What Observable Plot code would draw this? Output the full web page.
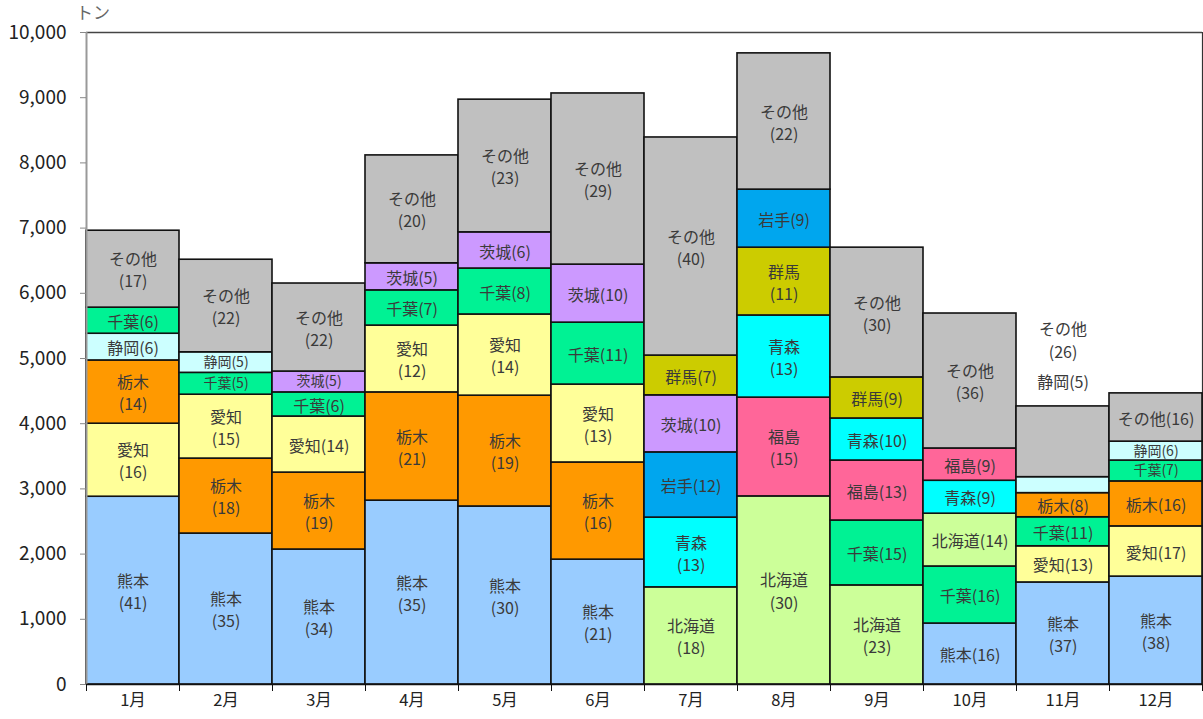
<!DOCTYPE html>
<html><head><meta charset="utf-8">
<script src="https://cdn.jsdelivr.net/npm/d3@7"></script>
<script src="https://cdn.jsdelivr.net/npm/@observablehq/plot@0.6"></script>
<style>
body{margin:0;background:#fff;}
#chart{position:relative;width:1203px;height:719px;}
#unit{position:absolute;left:76px;top:0px;font-family:"Noto Sans CJK JP",sans-serif;font-size:17px;line-height:24px;color:#666;}
</style>
</head><body>
<div id="chart"><div id="unit">トン</div></div>
<script>
// ---- data (tons, bottom to top; label = prefecture (share %)) ----
const months = ["1月","2月","3月","4月","5月","6月","7月","8月","9月","10月","11月","12月"];
const yTicks = [0,1000,2000,3000,4000,5000,6000,7000,8000,9000,10000];

const jan = [["熊本",2880,"熊本\n(41)"],["愛知",1120,"愛知\n(16)"],["栃木",970,"栃木\n(14)"],["静岡",410,"静岡(6)"],["千葉",400,"千葉(6)"],["その他",1180,"その他\n(17)"]];
const feb = [["熊本",2315,"熊本\n(35)"],["栃木",1150,"栃木\n(18)"],["愛知",980,"愛知\n(15)"],["千葉",335,"千葉(5)"],["静岡",315,"静岡(5)"],["その他",1420,"その他\n(22)"]];
const mar = [["熊本",2070,"熊本\n(34)"],["栃木",1180,"栃木\n(19)"],["愛知",860,"愛知(14)"],["千葉",370,"千葉(6)"],["茨城",320,"茨城(5)"],["その他",1350,"その他\n(22)"]];
const apr = [["熊本",2820,"熊本\n(35)"],["栃木",1660,"栃木\n(21)"],["愛知",1025,"愛知\n(12)"],["千葉",540,"千葉(7)"],["茨城",415,"茨城(5)"],["その他",1655,"その他\n(20)"]];
const may = [["熊本",2730,"熊本\n(30)"],["栃木",1700,"栃木\n(19)"],["愛知",1245,"愛知\n(14)"],["千葉",705,"千葉(8)"],["茨城",555,"茨城(6)"],["その他",2035,"その他\n(23)"]];
const jun = [["熊本",1915,"熊本\n(21)"],["栃木",1490,"栃木\n(16)"],["愛知",1195,"愛知\n(13)"],["千葉",950,"千葉(11)"],["茨城",890,"茨城(10)"],["その他",2625,"その他\n(29)"]];
const jul = [["北海道",1490,"北海道\n(18)"],["青森",1070,"青森\n(13)"],["岩手",1000,"岩手(12)"],["茨城",875,"茨城(10)"],["群馬",610,"群馬(7)"],["その他",3345,"その他\n(40)"]];
const aug = [["北海道",2885,"北海道\n(30)"],["福島",1515,"福島\n(15)"],["青森",1260,"青森\n(13)"],["群馬",1040,"群馬\n(11)"],["岩手",890,"岩手(9)"],["その他",2090,"その他\n(22)"]];
const sep = [["北海道",1520,"北海道\n(23)"],["千葉",995,"千葉(15)"],["福島",920,"福島(13)"],["青森",645,"青森(10)"],["群馬",630,"群馬(9)"],["その他",1990,"その他\n(30)"]];
const oct = [["熊本",935,"熊本(16)"],["千葉",875,"千葉(16)"],["北海道",810,"北海道(14)"],["青森",505,"青森(9)"],["福島",495,"福島(9)"],["その他",2070,"その他\n(36)"]];
const nov = [["熊本",1565,"熊本\n(37)"],["愛知",555,"愛知(13)"],["千葉",445,"千葉(11)"],["栃木",370,"栃木(8)"],["静岡",245,""],["その他",1085,""]];
const dec = [["熊本",1655,"熊本\n(38)"],["愛知",770,"愛知(17)"],["栃木",690,"栃木(16)"],["千葉",320,"千葉(7)"],["静岡",290,"静岡(6)"],["その他",740,"その他(16)"]];
// labels of November's two top segments are written above its bar
const novOutside = ["その他\n(26)","静岡(5)"];

const prefNames  = ["熊本","愛知","栃木","静岡","千葉","茨城","群馬","岩手","青森","福島","北海道","その他"];
const prefColors = ["#99ccff","#ffff99","#ff9900","#ccffff","#00f294","#cc99ff","#cccc00","#00a6ee","#00ffff","#ff6699","#ccff99","#c0c0c0"];

// ---- build stacked rows ----
const monthRows = [jan,feb,mar,apr,may,jun,jul,aug,sep,oct,nov,dec];
const rows = monthRows.flatMap((segs, i) => {
  let acc = 0;
  return segs.map(([pref, value, label]) => {
    const y1 = acc; acc += value;
    return {i, month: months[i], pref, value, label, y1, y2: acc};
  });
});
const novTotal = d3.sum(nov, d => d[1]);
const novIdx = months.indexOf("11月");

const font = '"Noto Sans CJK JP", "Noto Sans", sans-serif';
const chart = Plot.plot({
  width: 1203, height: 719,
  marginLeft: 86, marginRight: 1, marginTop: 32, marginBottom: 35,
  style: {fontFamily: font, fontSize: "17px", color: "#222", background: "transparent", overflow: "visible"},
  x: {type: "linear", domain: [0, 12], axis: null},
  y: {domain: [0, 10000], axis: null},
  color: {domain: prefNames, range: prefColors},
  marks: [
    Plot.ruleY([10000], {stroke: "#444", strokeWidth: 1.5}),
    Plot.ruleX([12], {stroke: "#333", strokeWidth: 1.2}),
    Plot.rect(rows, {x1: d => d.i, x2: d => d.i + 1, y1: "y1", y2: "y2", fill: "pref", stroke: "#111", strokeWidth: 1.6}),
    Plot.text(rows.filter(d => d.label && d.value >= 360), {x: d => d.i + 0.5, y: d => (d.y1 + d.y2) / 2, text: "label", fill: "#3a3a3a", fontSize: 16, lineHeight: 1.38}),
    Plot.text(rows.filter(d => d.label && d.value < 360), {x: d => d.i + 0.5, y: d => (d.y1 + d.y2) / 2, text: "label", fill: "#3a3a3a", fontSize: 14}),
    Plot.text([novOutside[0]], {x: novIdx + 0.5, y: novTotal, text: d => d, dy: -67, fill: "#3a3a3a", fontSize: 16, lineHeight: 1.42}),
    Plot.text([novOutside[1]], {x: novIdx + 0.5, y: novTotal, text: d => d, dy: -24, fill: "#3a3a3a", fontSize: 16}),
    Plot.ruleX([0], {stroke: "#999", strokeWidth: 2}),
    Plot.ruleY([0], {stroke: "#111", strokeWidth: 1.6}),
    Plot.axisY({ticks: yTicks, tickSize: 6, tickPadding: 14, tickFormat: d3.format(","), stroke: "#888", fill: "#222", fontSize: 19}),
    Plot.axisX({ticks: d3.range(13), tickSize: 7, tickFormat: () => "", stroke: "#111"}),
    Plot.axisX({ticks: months.map((_, i) => i + 0.5), tickSize: 0, tickPadding: 10, tickFormat: d => months[Math.round(d - 0.5)], fill: "#222", fontSize: 16.5})
  ]
});
document.getElementById("chart").appendChild(chart);
</script>
</body></html>
